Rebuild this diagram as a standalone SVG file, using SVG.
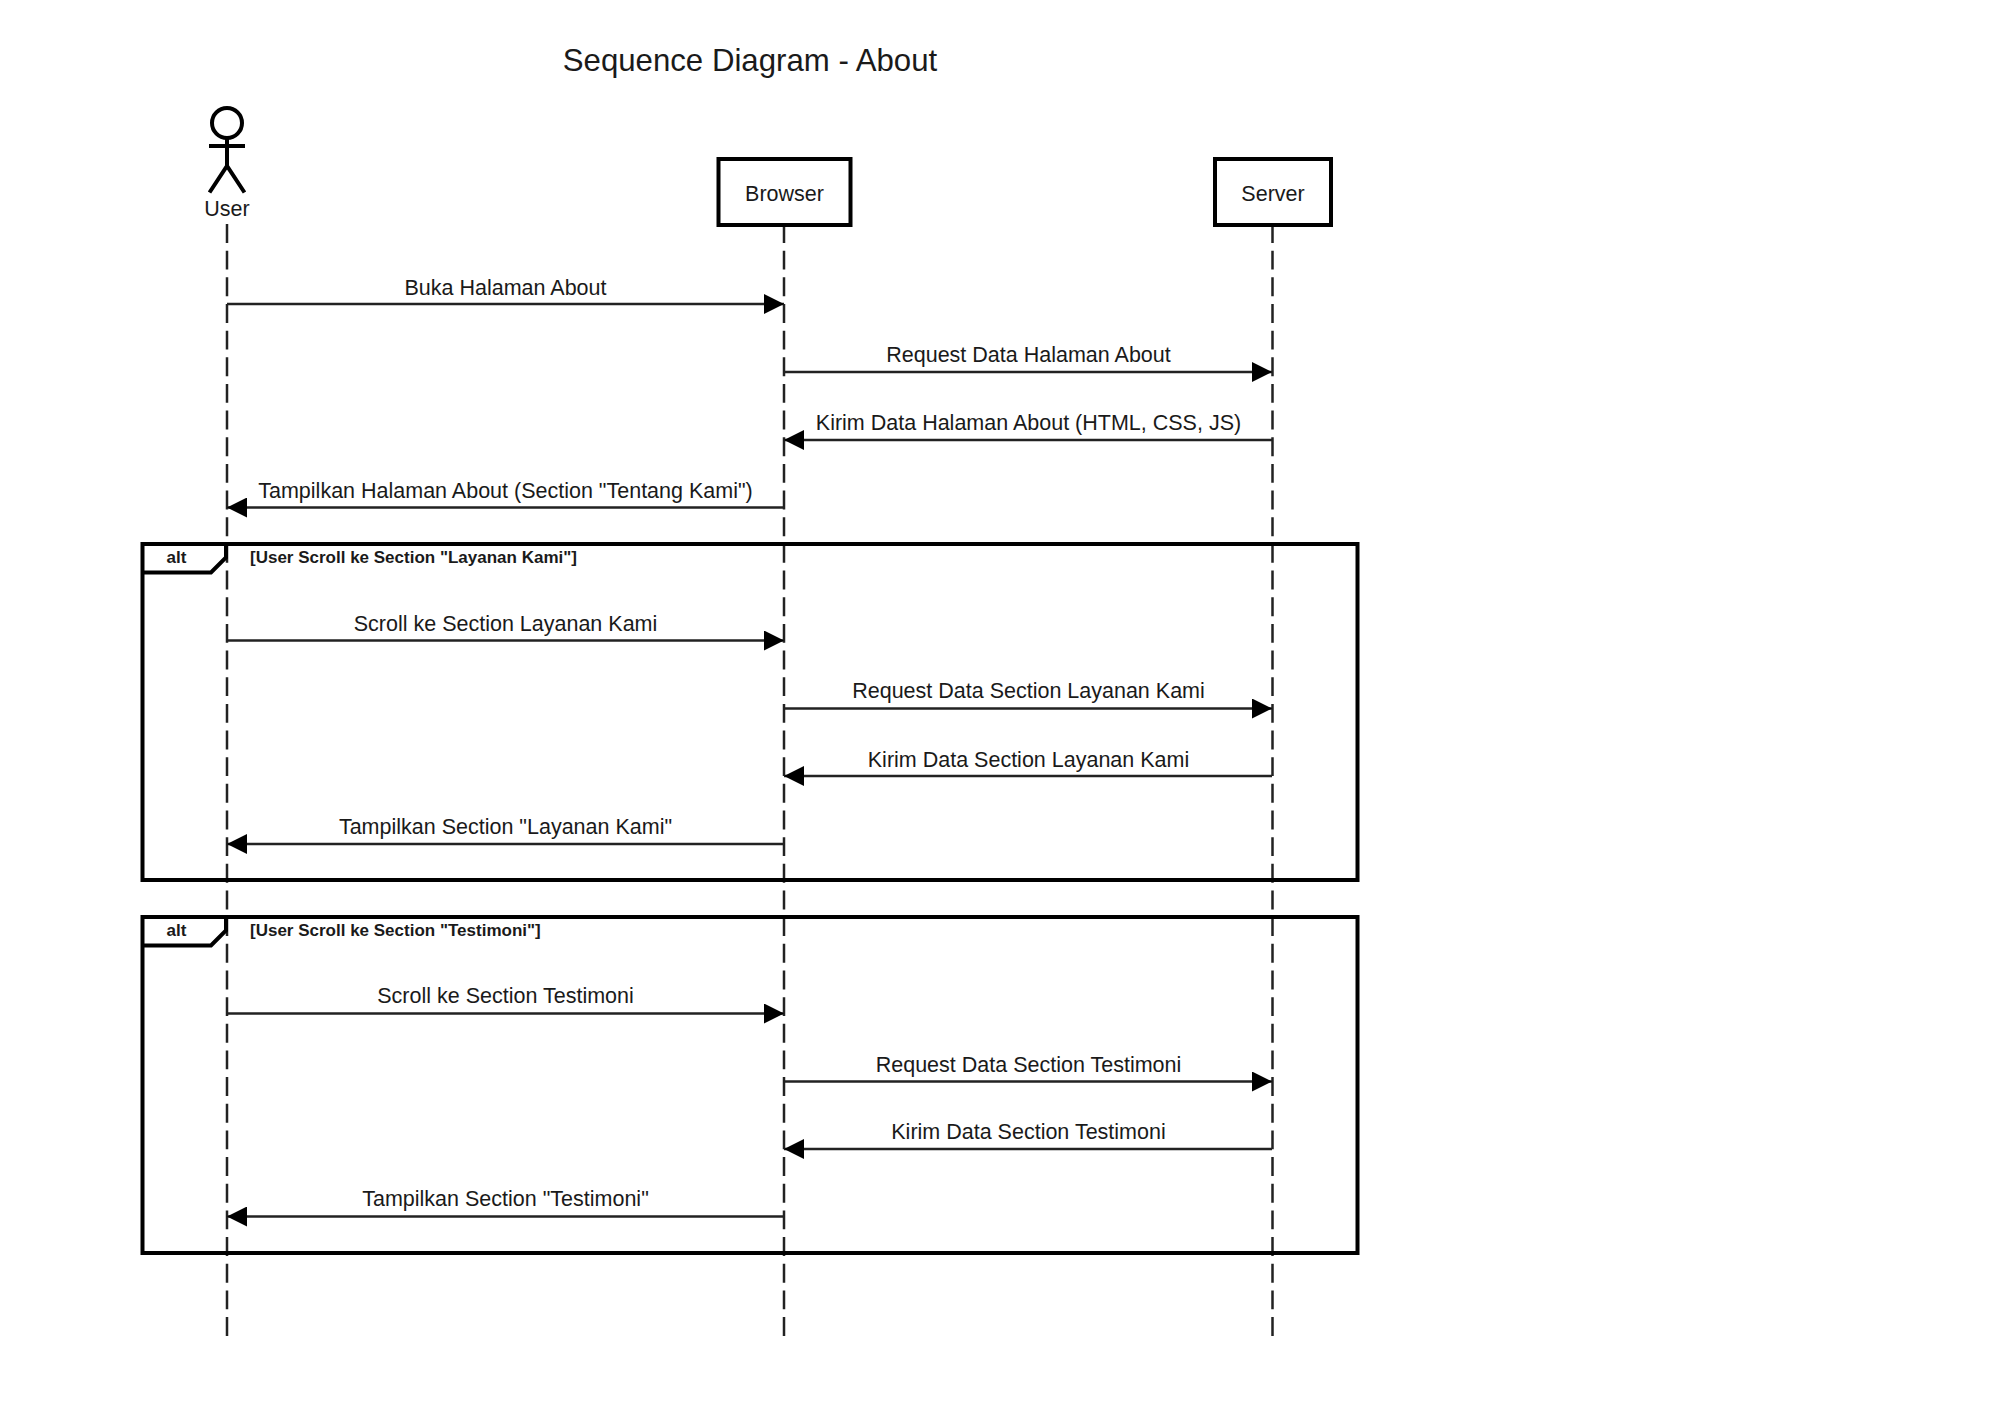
<svg xmlns="http://www.w3.org/2000/svg" width="2000" height="1414" viewBox="0 0 2000 1414">
<style>
text{font-family:"Liberation Sans",Arial,sans-serif;fill:#1a1a1a}
.m{font-size:21.5px;text-anchor:middle}
.g{font-size:17px;font-weight:bold}
.a{font-size:17px;font-weight:bold;text-anchor:middle}
.life{stroke:#222;stroke-width:2.5;stroke-dasharray:18.900 7.760;fill:none}
.msg{stroke:#222;stroke-width:2.5;fill:none}
.box{fill:#fff;stroke:#000;stroke-width:4}
.frame{fill:none;stroke:#000;stroke-width:4}
.ah{fill:#000}
</style>
<defs>
<marker id="arr" markerUnits="userSpaceOnUse" markerWidth="20" markerHeight="20" refX="20" refY="10" orient="auto-start-reverse"><path class="ah" d="M0 0L20 10L0 20Z"/></marker>
</defs>
<rect width="2000" height="1414" fill="#fff"/>
<text id="title" x="750" y="70.500" font-size="31.200" text-anchor="middle">Sequence Diagram - About</text>
<g id="lifelines">
<path class="life" d="M227 224V1336.500"/>
<path class="life" d="M784 224V1336.500"/>
<path class="life" d="M1272.500 224V1336.500"/>
</g>
<g id="node-user" fill="none" stroke="#000" stroke-width="4">
<circle cx="227" cy="123" r="15"/>
<path d="M227 138V166M209 146H245M209.500 192.500L227 166L244.500 192.500"/>
<text x="227" y="216" class="m" stroke="none">User</text>
</g>
<g id="node-browser"><rect class="box" x="718.500" y="159" width="132" height="66"/><text x="784.500" y="200.500" class="m">Browser</text></g>
<g id="node-server"><rect class="box" x="1215" y="159" width="116" height="66"/><text x="1273" y="200.500" class="m">Server</text></g>
<g id="frame-layanan">
<rect class="frame" x="142.500" y="544" width="1215" height="336"/>
<path class="frame" d="M142.500 572.500H211L226 557.500V544"/>
<text x="176.500" y="563" class="a">alt</text>
<text x="250" y="563" class="g">[User Scroll ke Section "Layanan Kami"]</text>
</g>
<g id="frame-testimoni">
<rect class="frame" x="142.500" y="917" width="1215" height="336"/>
<path class="frame" d="M142.500 945.500H211L226 930.500V917"/>
<text x="176.500" y="935.500" class="a">alt</text>
<text x="250" y="935.500" class="g">[User Scroll ke Section "Testimoni"]</text>
</g>
<g id="connectors">
<path class="msg" d="M227 304H784" marker-end="url(#arr)"/>
<path class="msg" d="M784 372H1272" marker-end="url(#arr)"/>
<path class="msg" d="M1272 440H784" marker-end="url(#arr)"/>
<path class="msg" d="M784 507.500H227" marker-end="url(#arr)"/>
<path class="msg" d="M227 640.500H784" marker-end="url(#arr)"/>
<path class="msg" d="M784 708.500H1272" marker-end="url(#arr)"/>
<path class="msg" d="M1272 776H784" marker-end="url(#arr)"/>
<path class="msg" d="M784 844H227" marker-end="url(#arr)"/>
<path class="msg" d="M227 1013.500H784" marker-end="url(#arr)"/>
<path class="msg" d="M784 1081.500H1272" marker-end="url(#arr)"/>
<path class="msg" d="M1272 1149H784" marker-end="url(#arr)"/>
<path class="msg" d="M784 1216.500H227" marker-end="url(#arr)"/>
</g>
<g id="labels">
<text class="m" x="505.500" y="295">Buka Halaman About</text>
<text class="m" x="1028.500" y="362">Request Data Halaman About</text>
<text class="m" x="1028.500" y="430">Kirim Data Halaman About (HTML, CSS, JS)</text>
<text class="m" x="505.500" y="498">Tampilkan Halaman About (Section "Tentang Kami")</text>
<text class="m" x="505.500" y="630.500">Scroll ke Section Layanan Kami</text>
<text class="m" x="1028.500" y="698">Request Data Section Layanan Kami</text>
<text class="m" x="1028.500" y="766.500">Kirim Data Section Layanan Kami</text>
<text class="m" x="505.500" y="834">Tampilkan Section "Layanan Kami"</text>
<text class="m" x="505.500" y="1003">Scroll ke Section Testimoni</text>
<text class="m" x="1028.500" y="1071.500">Request Data Section Testimoni</text>
<text class="m" x="1028.500" y="1139">Kirim Data Section Testimoni</text>
<text class="m" x="505.500" y="1206">Tampilkan Section "Testimoni"</text>
</g>
</svg>
